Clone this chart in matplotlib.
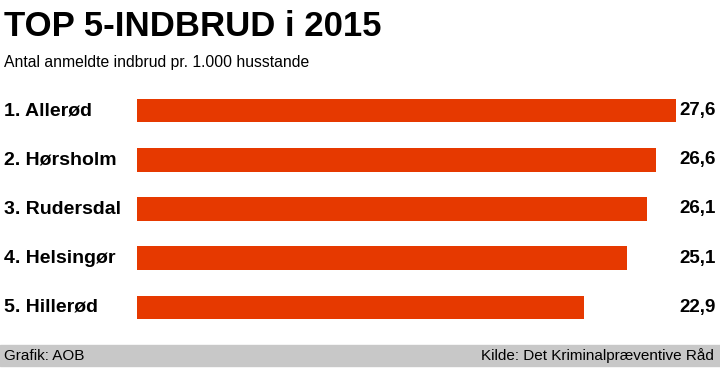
import matplotlib

matplotlib.use("Agg")
import matplotlib.pyplot as plt
from matplotlib.patches import Rectangle

KOMMUNER = ["1. Allerød", "2. Hørsholm", "3. Rudersdal", "4. Helsingør", "5. Hillerød"]
INDBRUD = [27.6, 26.6, 26.1, 25.1, 22.9]
LABELS = ["27,6", "26,6", "26,1", "25,1", "22,9"]

W, H = 720, 375
BAR_COLOR = "#e63900"

plt.rcParams["font.family"] = ["Liberation Sans", "DejaVu Sans"]

fig = plt.figure(figsize=(W / 100, H / 100), dpi=100)

# bars axis: x from px 137 to 676, y covers the five rows
x0, x1 = 137, 676
ax = fig.add_axes([x0 / W, 1 - 333 / H, (x1 - x0) / W, (333 - 85) / H])
ypos = list(range(len(INDBRUD)))
ax.barh(ypos, INDBRUD, height=24 / 49.6, color=BAR_COLOR)
ax.set_xlim(0, INDBRUD[0])
ax.set_ylim(len(INDBRUD) - 0.5 + 0.02, -0.5 - 0.02)
ax.axis("off")

px = INDBRUD[0] / (x1 - x0)  # data units per pixel
for y, name, lab in zip(ypos, KOMMUNER, LABELS):
    ax.text((4 - x0) * px, y, name, ha="left", va="center",
            fontsize=14, fontweight="bold")
    ax.text((716 - x0) * px, y, lab, ha="right", va="center",
            fontsize=13.5, fontweight="bold")

fig.text(4 / W, 1 - 27 / H, "TOP 5-INDBRUD i 2015", ha="left", va="center",
         fontsize=25, fontweight="bold")
fig.text(4 / W, 1 - 62 / H, "Antal anmeldte indbrud pr. 1.000 husstande",
         ha="left", va="center", fontsize=11.3)

# footer band
fig.patches.append(Rectangle((0, 1 - 366 / H), 1, 21 / H, transform=fig.transFigure,
                             color="#c8c8c8", zorder=0))
fig.text(4 / W, 1 - 355.5 / H, "Grafik: AOB", ha="left", va="center", fontsize=11)
fig.text(714 / W, 1 - 355.5 / H, "Kilde: Det Kriminalpræventive Råd", ha="right",
         va="center", fontsize=11)

fig.savefig("out.png", dpi=100)
